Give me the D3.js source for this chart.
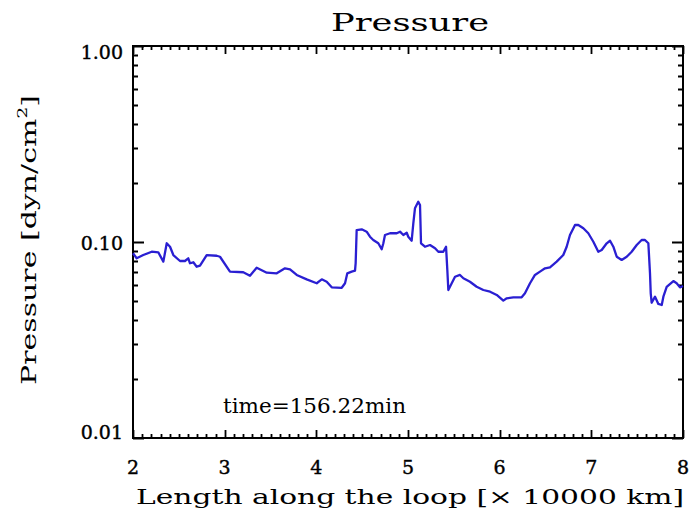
<!DOCTYPE html>
<html>
<head>
<meta charset="utf-8">
<script src="https://cdn.jsdelivr.net/npm/d3@7/dist/d3.min.js"></script>
<style>
  html, body { margin: 0; padding: 0; background: #fff; }
  svg { display: block; }
  text { font-family: "DejaVu Serif", "Liberation Serif", serif; fill: #000; }
</style>
</head>
<body>
<svg id="chart" width="696" height="515"></svg>
<script>
// Position along the loop, in units of 10000 km
const lengthAlongLoop = [
  2.000, 2.040, 2.112, 2.204, 2.276, 2.331, 2.368, 2.404, 2.440, 2.513,
  2.567, 2.603, 2.622, 2.658, 2.695, 2.731, 2.804, 2.913, 2.949, 3.058,
  3.203, 3.276, 3.349, 3.421, 3.459, 3.568, 3.658, 3.713, 3.786, 3.895,
  4.004, 4.059, 4.113, 4.168, 4.277, 4.313, 4.338, 4.386, 4.422, 4.429,
  4.440, 4.495, 4.549, 4.585, 4.621, 4.676, 4.713, 4.731, 4.749, 4.804,
  4.877, 4.913, 4.949, 4.986, 5.003, 5.040, 5.058, 5.076, 5.112, 5.131,
  5.142, 5.185, 5.240, 5.295, 5.331, 5.385, 5.415, 5.429, 5.440, 5.477,
  5.513, 5.567, 5.604, 5.676, 5.749, 5.822, 5.895, 5.968, 6.040, 6.077,
  6.149, 6.240, 6.276, 6.331, 6.385, 6.440, 6.495, 6.549, 6.622, 6.694,
  6.731, 6.767, 6.822, 6.858, 6.913, 6.967, 7.022, 7.076, 7.113, 7.168,
  7.204, 7.240, 7.277, 7.331, 7.386, 7.440, 7.495, 7.549, 7.585, 7.622,
  7.640, 7.648, 7.658, 7.695, 7.731, 7.768, 7.786, 7.822, 7.895, 7.931,
  7.967, 8.000
];

// Pressure in dyn/cm^2
const pressure = [
  0.0876, 0.0826, 0.0858, 0.0892, 0.0886, 0.0794, 0.0985, 0.0946, 0.0858, 0.0800,
  0.0800, 0.0826, 0.0779, 0.0788, 0.0748, 0.0757, 0.0858, 0.0851, 0.0841, 0.0706,
  0.0701, 0.0673, 0.0739, 0.0711, 0.0697, 0.0692, 0.0734, 0.0726, 0.0679, 0.0645,
  0.0616, 0.0645, 0.0627, 0.0587, 0.0584, 0.0616, 0.0692, 0.0706, 0.0714, 0.0781,
  0.1151, 0.1161, 0.1129, 0.1064, 0.1024, 0.0985, 0.0918, 0.0985, 0.1086, 0.1108,
  0.1108, 0.1129, 0.1086, 0.1115, 0.1064, 0.1015, 0.1246, 0.1486, 0.1605, 0.1545,
  0.0985, 0.0946, 0.0965, 0.0929, 0.0892, 0.0892, 0.0946, 0.0720, 0.0569, 0.0616,
  0.0665, 0.0679, 0.0653, 0.0627, 0.0591, 0.0569, 0.0558, 0.0537, 0.0502, 0.0516,
  0.0522, 0.0522, 0.0547, 0.0616, 0.0679, 0.0706, 0.0734, 0.0743, 0.0794, 0.0858,
  0.0946, 0.1086, 0.1221, 0.1221, 0.1175, 0.1108, 0.1003, 0.0892, 0.0910, 0.0985,
  0.1015, 0.0946, 0.0841, 0.0810, 0.0841, 0.0892, 0.0965, 0.1024, 0.1024, 0.0985,
  0.0692, 0.0547, 0.0490, 0.0526, 0.0483, 0.0477, 0.0526, 0.0591, 0.0632, 0.0616,
  0.0587, 0.0596
];

const xTickValues = [2, 3, 4, 5, 6, 7, 8];
const xTickLabels = ["2", "3", "4", "5", "6", "7", "8"];
const yTickValues = [0.01, 0.1, 1];
const yTickLabels = ["0.01", "0.10", "1.00"];

const chartTitle = "Pressure";
const xTitle = "Length along the loop [\u00d7 10000 km]";
const annotation = "time=156.22min";

const svg = d3.select("#chart");
const plot = { left: 133, right: 683, top: 46, bottom: 438 };

const x = d3.scaleLinear().domain([2, 8]).range([plot.left, plot.right]);
const y = d3.scaleLog().domain([0.01, 1]).range([plot.bottom, plot.top]);

// minor tick positions: tenths along x, 2..9 within each decade on y
const xMinor = d3.range(20, 81).map(d => d / 10).filter(d => !xTickValues.includes(d));
const yMinor = [];
[0.01, 0.1].forEach(dec => { for (let k = 2; k <= 9; k++) yMinor.push(dec * k); });

// all inward tick marks of the four edges, collected into one path
const tickSegs = [];
function addXTicks(values, len) {
  values.forEach(v => {
    const px = Math.round(x(v)) + 0.5;
    tickSegs.push(`M${px},${plot.bottom}V${plot.bottom - len}`);
    tickSegs.push(`M${px},${plot.top}V${plot.top + len}`);
  });
}
function addYTicks(values, len) {
  values.forEach(v => {
    const py = Math.round(y(v)) + 0.5;
    tickSegs.push(`M${plot.left},${py}H${plot.left + len}`);
    tickSegs.push(`M${plot.right},${py}H${plot.right - len}`);
  });
}
addXTicks(xMinor, 4);
addXTicks(xTickValues, 8);
addYTicks(yMinor, 5);
addYTicks(yTickValues, 11);

svg.append("path")
  .attr("d", tickSegs.join(""))
  .attr("fill", "none")
  .style("stroke", "#000")
  .style("stroke-width", "1.8px");

// tick labels
svg.append("g").selectAll("text").data(xTickValues).enter().append("text")
  .attr("x", d => x(d)).attr("y", plot.bottom + 36)
  .attr("text-anchor", "middle")
  .attr("font-size", 19).attr("stroke", "#000").attr("stroke-width", 0.4)
  .text((d, i) => xTickLabels[i]);

// labels at the ends of the range sit slightly inside it
const yLabelShift = [-6, 1, 6];
svg.append("g").selectAll("text").data(yTickValues).enter().append("text")
  .attr("x", plot.left - 10).attr("y", (d, i) => y(d) + 7 + yLabelShift[i])
  .attr("text-anchor", "end")
  .attr("font-size", 19).attr("stroke", "#000").attr("stroke-width", 0.4)
  .text((d, i) => yTickLabels[i]);

// frame
svg.append("rect")
  .attr("x", plot.left).attr("y", plot.top)
  .attr("width", plot.right - plot.left).attr("height", plot.bottom - plot.top)
  .attr("fill", "none").attr("stroke", "#000").attr("stroke-width", 2);

// pressure profile
const line = d3.line()
  .x((d, i) => x(lengthAlongLoop[i]))
  .y(d => y(d));
svg.append("path")
  .datum(pressure)
  .attr("d", line)
  .attr("fill", "none")
  .attr("stroke", "#2a1fd2")
  .attr("stroke-width", 2.3)
  .attr("stroke-linejoin", "round");

// title
svg.append("text")
  .attr("x", 410).attr("y", 31)
  .attr("text-anchor", "middle")
  .attr("font-size", 24)
  .attr("textLength", 158).attr("lengthAdjust", "spacingAndGlyphs")
  .text(chartTitle);

// x-axis title
svg.append("text")
  .attr("x", 410).attr("y", 504)
  .attr("text-anchor", "middle")
  .attr("font-size", 21)
  .attr("textLength", 548).attr("lengthAdjust", "spacingAndGlyphs")
  .text(xTitle);

// y-axis title
const yTitle = svg.append("text")
  .attr("transform", "translate(36,240) rotate(-90)")
  .attr("text-anchor", "middle")
  .attr("font-size", 21)
  .attr("textLength", 290).attr("lengthAdjust", "spacingAndGlyphs");
yTitle.append("tspan").text("Pressure [dyn/cm");
yTitle.append("tspan").attr("font-size", 13).attr("dy", -9).text("2");
yTitle.append("tspan").attr("dy", 9).text("]");

// time annotation
svg.append("text")
  .attr("x", 223).attr("y", 413)
  .attr("font-size", 21)
  .attr("textLength", 183).attr("lengthAdjust", "spacingAndGlyphs")
  .text(annotation);
</script>
</body>
</html>
